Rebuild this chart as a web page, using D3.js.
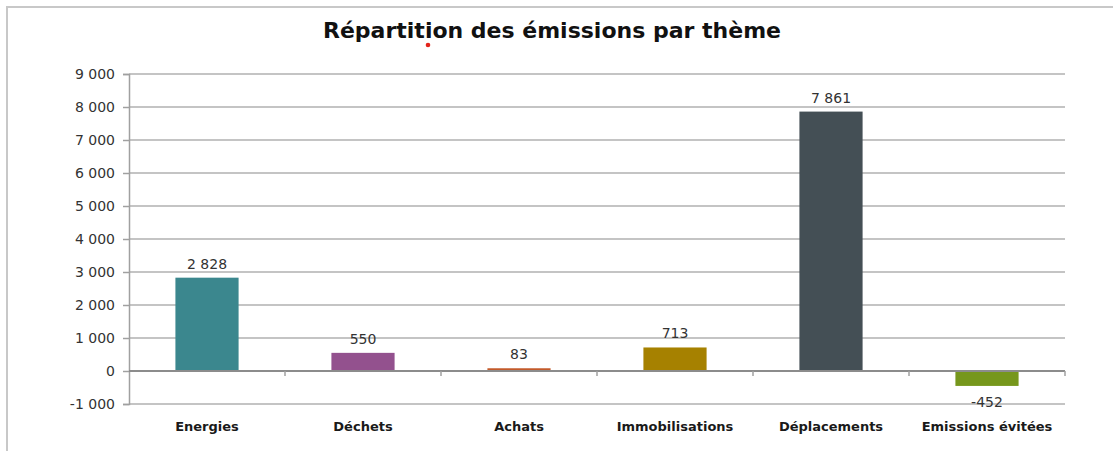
<!DOCTYPE html>
<html>
<head>
<meta charset="utf-8">
<script src="https://cdn.jsdelivr.net/npm/d3@7"></script>
<style>
  body { margin: 0; background: #fff; }
  svg { display: block; }
  text { font-family: "DejaVu Sans", sans-serif; }
</style>
</head>
<body>
<div id="chart-area"></div>
<script>
var width = 1113;
var height = 451;

var categories = ["Energies", "Déchets", "Achats", "Immobilisations", "Déplacements", "Emissions évitées"];
var values = [2828, 550, 83, 713, 7861, -452];
var barColors = ["#3b878e", "#93518e", "#c35a2a", "#a68100", "#444f55", "#76971c"];
var yTicks = [-1000, 0, 1000, 2000, 3000, 4000, 5000, 6000, 7000, 8000, 9000];

var margin = {left: 129, right: 48, top: 74, bottom: 47};
var plotW = width - margin.left - margin.right;

var fr = d3.formatLocale({decimal: ",", thousands: " ", grouping: [3], currency: ["", ""], minus: "-"});
var fmt = fr.format(",d");

var svg = d3.select("#chart-area").append("svg")
    .attr("width", width)
    .attr("height", height);

// cadre du graphique
svg.append("rect")
    .attr("x", 7).attr("y", 7)
    .attr("width", width + 20).attr("height", height + 20)
    .attr("fill", "none")
    .attr("stroke", "#c8c8c8")
    .attr("stroke-width", 2);

var x = d3.scaleBand()
    .domain(categories)
    .range([margin.left, margin.left + plotW])
    .padding(0);

var y = d3.scaleLinear()
    .domain([-1000, 9000])
    .range([height - margin.bottom, margin.top]);

var barW = x.bandwidth() * 0.405;

// titre
svg.append("text")
    .attr("x", 552)
    .attr("y", 38)
    .attr("text-anchor", "middle")
    .attr("font-size", 22)
    .attr("font-weight", "bold")
    .attr("fill", "#111")
    .text("Répartition des émissions par thème");

svg.append("circle")
    .attr("cx", 428).attr("cy", 45).attr("r", 2.3)
    .attr("fill", "#e3241b");

// grille
svg.append("g")
    .selectAll("line")
    .data(yTicks.filter(d => d !== 0))
    .enter().append("line")
    .attr("x1", margin.left)
    .attr("x2", margin.left + plotW)
    .attr("y1", d => y(d))
    .attr("y2", d => y(d))
    .attr("stroke", "#c4c4c4")
    .attr("stroke-width", 2);

// axe vertical
var yAxis = svg.append("g")
    .attr("transform", "translate(" + margin.left + ",0)")
    .call(d3.axisLeft(y).tickValues(yTicks).tickFormat(fmt).tickSize(6).tickPadding(8));
yAxis.select(".domain").attr("stroke", "#a0a0a0").attr("stroke-width", 1.5);
yAxis.selectAll(".tick line").attr("stroke", "#a0a0a0").attr("stroke-width", 1.5);
yAxis.selectAll(".tick text")
    .attr("font-size", 14)
    .attr("fill", "#333")
    .attr("font-family", "'DejaVu Sans', sans-serif");

// barres
svg.append("g")
    .selectAll("rect")
    .data(values)
    .enter().append("rect")
    .attr("x", (d, i) => x(categories[i]) + (x.bandwidth() - barW) / 2)
    .attr("y", d => y(Math.max(0, d)))
    .attr("width", barW)
    .attr("height", d => Math.abs(y(d) - y(0)))
    .attr("fill", (d, i) => barColors[i]);

// axe horizontal sur le zéro
svg.append("line")
    .attr("x1", margin.left).attr("x2", margin.left + plotW)
    .attr("y1", y(0)).attr("y2", y(0))
    .attr("stroke", "#8c8c8c")
    .attr("stroke-width", 2);

svg.append("g")
    .selectAll("line")
    .data(categories.slice(1).concat(["end"]))
    .enter().append("line")
    .attr("x1", d => d === "end" ? margin.left + plotW : x(d))
    .attr("x2", d => d === "end" ? margin.left + plotW : x(d))
    .attr("y1", y(0))
    .attr("y2", y(0) + 5)
    .attr("stroke", "#a0a0a0")
    .attr("stroke-width", 1.5);

// étiquettes des catégories
svg.append("g")
    .selectAll("text")
    .data(categories)
    .enter().append("text")
    .attr("x", d => x(d) + x.bandwidth() / 2)
    .attr("y", 431)
    .attr("text-anchor", "middle")
    .attr("font-size", 13)
    .attr("font-weight", "bold")
    .attr("fill", "#1a1a1a")
    .text(d => d);

// valeurs
svg.append("g")
    .selectAll("text")
    .data(values)
    .enter().append("text")
    .attr("x", (d, i) => x(categories[i]) + x.bandwidth() / 2)
    .attr("y", d => d >= 0 ? y(d) - 9 : y(d) + 21)
    .attr("text-anchor", "middle")
    .attr("font-size", 14)
    .attr("fill", "#333")
    .text(d => fmt(d));
</script>
</body>
</html>
